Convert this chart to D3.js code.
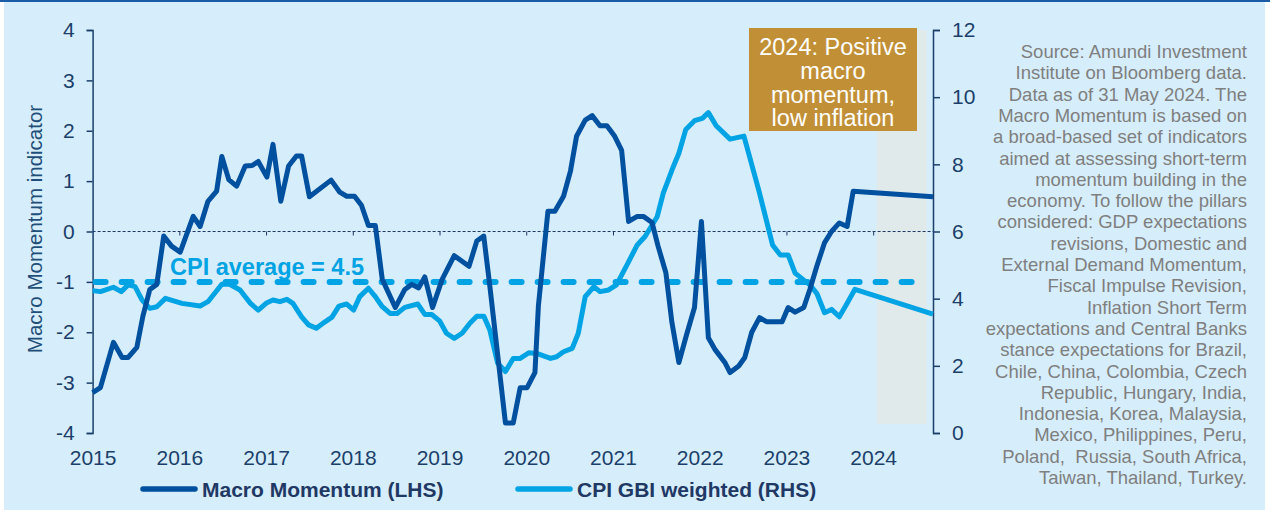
<!DOCTYPE html>
<html>
<head>
<meta charset="utf-8">
<script src="https://cdn.jsdelivr.net/npm/d3@7"></script>
<style>
  body { margin: 0; background: #fff; }
  svg { display: block; font-family: "Liberation Sans", Arial, sans-serif; }
</style>
</head>
<body>
<div id="chart"></div>
<script>
// Year labels and axis ticks
const years = [2015, 2016, 2017, 2018, 2019, 2020, 2021, 2022, 2023, 2024];
const leftTicks = [-4, -3, -2, -1, 0, 1, 2, 3, 4];
const rightTicks = [0, 2, 4, 6, 8, 10, 12];

// Macro Momentum (LHS) (decimal years)
const momDates = [2015.00, 2015.09, 2015.24, 2015.34, 2015.41, 2015.51, 2015.58, 2015.66, 2015.74, 2015.82,
  2015.91, 2016.01, 2016.16, 2016.24, 2016.33, 2016.43, 2016.49, 2016.57, 2016.66, 2016.76,
  2016.84, 2016.91, 2017.01, 2017.08, 2017.17, 2017.26, 2017.35, 2017.41, 2017.50, 2017.75,
  2017.85, 2017.93, 2018.02, 2018.10, 2018.18, 2018.26, 2018.34, 2018.49, 2018.60, 2018.68,
  2018.76, 2018.83, 2018.92, 2019.03, 2019.17, 2019.34, 2019.43, 2019.51, 2019.58, 2019.76,
  2019.85, 2019.93, 2020.01, 2020.10, 2020.14, 2020.25, 2020.33, 2020.43, 2020.51, 2020.58,
  2020.68, 2020.76, 2020.85, 2020.93, 2021.02, 2021.10, 2021.18, 2021.28, 2021.35, 2021.45,
  2021.52, 2021.61, 2021.68, 2021.76, 2021.85, 2021.94, 2022.02, 2022.10, 2022.18, 2022.29,
  2022.35, 2022.45, 2022.52, 2022.60, 2022.69, 2022.77, 2022.95, 2023.02, 2023.10, 2023.20,
  2023.27, 2023.35, 2023.44, 2023.52, 2023.61, 2023.70, 2023.77, 2024.02, 2024.69];
const momValues = [-3.2, -3.1, -2.2, -2.5, -2.5, -2.3, -1.68, -1.15, -1.05, -0.09,
  -0.29, -0.41, 0.30, 0.10, 0.60, 0.80, 1.49, 1.03, 0.90, 1.30,
  1.31, 1.39, 1.08, 1.73, 0.60, 1.30, 1.50, 1.50, 0.69, 1.02,
  0.78, 0.70, 0.70, 0.52, 0.12, 0.12, -0.95, -1.51, -1.15, -1.05,
  -1.12, -0.90, -1.51, -0.95, -0.48, -0.69, -0.19, -0.09, -1.08, -3.80,
  -3.80, -3.10, -3.10, -2.80, -1.48, 0.40, 0.40, 0.70, 1.20, 1.89,
  2.21, 2.30, 2.10, 2.10, 1.89, 1.61, 0.20, 0.30, 0.30, 0.18,
  -0.29, -0.82, -1.81, -2.60, -2.04, -1.51, 0.20, -2.11, -2.35, -2.60,
  -2.80, -2.67, -2.50, -2.00, -1.71, -1.79, -1.79, -1.51, -1.60, -1.51,
  -1.15, -0.69, -0.22, 0.00, 0.17, 0.10, 0.80, 0.77, 0.69];

// CPI GBI weighted (RHS)
const cpiDates = [2015.00, 2015.09, 2015.24, 2015.33, 2015.41, 2015.49, 2015.57, 2015.66, 2015.74, 2015.84,
  2016.03, 2016.24, 2016.33, 2016.49, 2016.58, 2016.70, 2016.82, 2016.91, 2017.01, 2017.08,
  2017.16, 2017.24, 2017.31, 2017.41, 2017.49, 2017.58, 2017.68, 2017.76, 2017.84, 2017.93,
  2018.01, 2018.08, 2018.18, 2018.26, 2018.34, 2018.43, 2018.51, 2018.60, 2018.75, 2018.83,
  2018.91, 2019.00, 2019.08, 2019.17, 2019.26, 2019.35, 2019.43, 2019.51, 2019.58, 2019.67,
  2019.76, 2019.85, 2019.93, 2020.03, 2020.12, 2020.28, 2020.35, 2020.43, 2020.53, 2020.60,
  2020.68, 2020.78, 2020.85, 2020.95, 2021.04, 2021.16, 2021.28, 2021.37, 2021.51, 2021.58,
  2021.68, 2021.76, 2021.84, 2021.94, 2022.03, 2022.10, 2022.19, 2022.35, 2022.51, 2022.68,
  2022.84, 2022.93, 2023.02, 2023.10, 2023.27, 2023.35, 2023.44, 2023.52, 2023.61, 2023.70,
  2023.79, 2024.69];
const cpiValues = [4.24, 4.21, 4.34, 4.21, 4.41, 4.36, 3.96, 3.71, 3.76, 4.01,
  3.86, 3.78, 3.91, 4.43, 4.43, 4.26, 3.86, 3.66, 3.88, 3.96,
  3.91, 3.98, 3.86, 3.46, 3.22, 3.12, 3.31, 3.45, 3.78, 3.84,
  3.66, 4.06, 4.31, 4.06, 3.76, 3.56, 3.56, 3.74, 3.84, 3.53,
  3.53, 3.34, 2.97, 2.82, 2.97, 3.27, 3.48, 3.48, 3.07, 2.08,
  1.83, 2.22, 2.22, 2.39, 2.37, 2.22, 2.27, 2.42, 2.52, 2.97,
  4.06, 4.36, 4.21, 4.26, 4.41, 5.00, 5.60, 5.85, 6.44, 7.14,
  7.83, 8.33, 9.04, 9.30, 9.37, 9.54, 9.15, 8.75, 8.84, 7.24,
  5.60, 5.30, 5.30, 4.76, 4.41, 4.16, 3.58, 3.68, 3.46, 3.86,
  4.28, 3.54];

const cpiAverage = 4.5;
const cpiAverageEnd = 2024.55;
const shadeFrom = 2024.04, shadeTo = 2024.62;

const boxLines = ["2024: Positive", "macro", "momentum,", "low inflation"];
const sourceLines = [
  "Source: Amundi Investment",
  "Institute on Bloomberg data.",
  "Data as of 31 May 2024. The",
  "Macro Momentum is based on",
  "a broad-based set of indicators",
  "aimed at assessing short-term",
  "momentum building in the",
  "economy. To follow the pillars",
  "considered: GDP expectations",
  "revisions, Domestic and",
  "External Demand Momentum,",
  "Fiscal Impulse Revision,",
  "Inflation Short Term",
  "expectations and Central Banks",
  "stance expectations for Brazil,",
  "Chile, China, Colombia, Czech",
  "Republic, Hungary, India,",
  "Indonesia, Korea, Malaysia,",
  "Mexico, Philippines, Peru,",
  "Poland,  Russia, South Africa,",
  "Taiwan, Thailand, Turkey."
];

const darkBlue = "#0050a0", lightBlue = "#00a3e3", axisInk = "#1b3f6a";

const width = 1270, height = 510;
const plot = { left: 92.6, right: 933, top: 30, bottom: 433 };

const svg = d3.select("#chart")
  .append("svg")
  .attr("width", width)
  .attr("height", height);

// background panel + top rule
svg.append("rect").attr("x", 4).attr("y", 1).attr("width", 1261).attr("height", height)
  .attr("fill", "#d6edfb");
svg.append("rect").attr("x", 0).attr("y", 0).attr("width", width).attr("height", 2)
  .attr("fill", "#1a5ca5");

// scales
const x = d3.scaleLinear().domain([2015, 2024.69]).range([plot.left, plot.right]);
const yL = d3.scaleLinear().domain([-4, 4]).range([plot.bottom, plot.top]);
const yR = d3.scaleLinear().domain([0, 12]).range([plot.bottom, plot.top]);

// shaded 2024 area
svg.append("rect")
  .attr("x", x(shadeFrom))
  .attr("y", yR(12))
  .attr("width", x(shadeTo) - x(shadeFrom))
  .attr("height", yR(0.27) - yR(12))
  .attr("fill", "#e1eaeb");

// zero line with year ticks
svg.append("line")
  .attr("x1", plot.left).attr("x2", plot.right)
  .attr("y1", yL(0)).attr("y2", yL(0))
  .attr("stroke", "#1f3864").attr("stroke-width", 1)
  .attr("stroke-dasharray", "3,2");
svg.append("g")
  .attr("transform", `translate(0,${yL(0)})`)
  .call(d3.axisBottom(x).tickValues(years.slice(1)).tickSize(4).tickFormat(""))
  .call(g => g.select(".domain").remove())
  .call(g => g.selectAll("line").attr("stroke", "#1f3864"));

// left axis
svg.append("g")
  .attr("transform", `translate(${plot.left},0)`)
  .call(d3.axisLeft(yL).tickValues(leftTicks).tickSize(6).tickPadding(12).tickFormat(d => String(d)))
  .call(g => g.select(".domain").attr("stroke", axisInk).attr("stroke-width", 1.5))
  .call(g => g.selectAll("line").attr("stroke", axisInk).attr("stroke-width", 1.5))
  .call(g => g.selectAll("text").attr("fill", axisInk).style("font-size", "21px"));

// right axis
svg.append("g")
  .attr("transform", `translate(${plot.right},0)`)
  .call(d3.axisRight(yR).tickValues(rightTicks).tickSize(7).tickPadding(12).tickFormat(d => String(d)))
  .call(g => g.select(".domain").attr("stroke", axisInk).attr("stroke-width", 1.5))
  .call(g => g.selectAll("line").attr("stroke", axisInk).attr("stroke-width", 1.5))
  .call(g => g.selectAll("text").attr("fill", axisInk).style("font-size", "21px"));

// year labels
svg.append("g")
  .attr("transform", `translate(0,${plot.bottom})`)
  .call(d3.axisBottom(x).tickValues(years).tickSize(0).tickPadding(17).tickFormat(d3.format("d")))
  .call(g => g.select(".domain").remove())
  .call(g => g.selectAll("text").attr("fill", axisInk).style("font-size", "21px"));

// left axis title
svg.append("text")
  .attr("transform", "rotate(-90)")
  .attr("x", -229)
  .attr("y", 42)
  .attr("text-anchor", "middle")
  .attr("fill", "#1f4e79")
  .style("font-size", "20.5px")
  .text("Macro Momentum indicator");

// CPI series
const cpiPts = cpiDates.map((d, i) => [d, cpiValues[i]]);
svg.append("path")
  .datum(cpiPts)
  .attr("fill", "none")
  .attr("stroke", lightBlue)
  .attr("stroke-width", 5)
  .attr("stroke-linejoin", "round")
  .attr("d", d3.line().x(d => x(d[0])).y(d => yR(d[1])));

// CPI average
svg.append("line")
  .attr("x1", x(2015) + 3).attr("x2", x(cpiAverageEnd))
  .attr("y1", yR(cpiAverage)).attr("y2", yR(cpiAverage))
  .attr("stroke", lightBlue)
  .attr("stroke-width", 6)
  .attr("stroke-linecap", "round")
  .attr("stroke-dasharray", "10,16");

svg.append("text")
  .attr("x", 170)
  .attr("y", yR(cpiAverage) - 7)
  .attr("fill", lightBlue)
  .attr("font-weight", "bold")
  .style("font-size", "23.5px")
  .text("CPI average = 4.5");

// Macro momentum series
const momPts = momDates.map((d, i) => [d, momValues[i]]);
svg.append("path")
  .datum(momPts)
  .attr("fill", "none")
  .attr("stroke", darkBlue)
  .attr("stroke-width", 5)
  .attr("stroke-linejoin", "round")
  .attr("d", d3.line().x(d => x(d[0])).y(d => yL(d[1])));

// annotation box
svg.append("rect")
  .attr("x", 749).attr("y", 28)
  .attr("width", 168).attr("height", 103)
  .attr("fill", "#c19036");
svg.append("g")
  .selectAll("text")
  .data(boxLines)
  .enter().append("text")
  .attr("x", 833)
  .attr("y", (d, i) => 55 + i * 23.8)
  .attr("text-anchor", "middle")
  .attr("fill", "#ffffff")
  .style("font-size", "23.5px")
  .text(d => d);

// source note
svg.append("g")
  .selectAll("text")
  .data(sourceLines)
  .enter().append("text")
  .attr("x", 1247)
  .attr("y", (d, i) => 58 + i * 21.3)
  .attr("text-anchor", "end")
  .attr("fill", "#7f7f7f")
  .style("font-size", "18.5px")
  .style("white-space", "pre")
  .text(d => d);

// legend
const legend = [
  { label: "Macro Momentum (LHS)", color: darkBlue, x0: 143 },
  { label: "CPI GBI weighted (RHS)", color: lightBlue, x0: 518 }
];
const lg = svg.append("g").selectAll("g").data(legend).enter().append("g");
lg.append("line")
  .attr("x1", d => d.x0).attr("x2", d => d.x0 + 52)
  .attr("y1", 489).attr("y2", 489)
  .attr("stroke", d => d.color)
  .attr("stroke-width", 5.5)
  .attr("stroke-linecap", "round");
lg.append("text")
  .attr("x", d => d.x0 + 59)
  .attr("y", 496.5)
  .attr("fill", "#1f3864")
  .attr("font-weight", "bold")
  .style("font-size", "21px")
  .text(d => d.label);
</script>
</body>
</html>
